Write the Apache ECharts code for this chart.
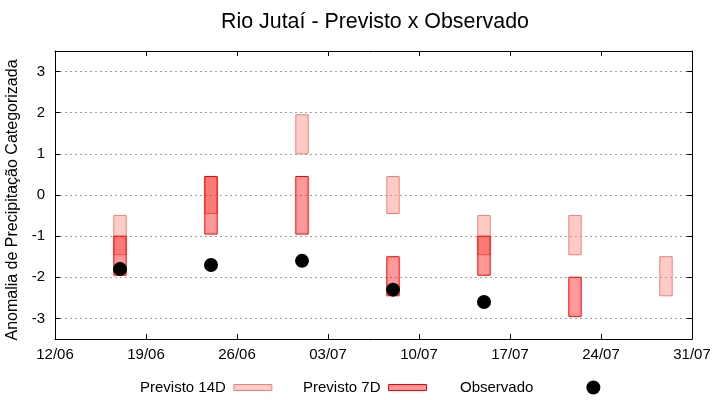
<!DOCTYPE html>
<html>
<head>
<meta charset="utf-8">
<script src="https://cdn.jsdelivr.net/npm/echarts@6/dist/echarts.min.js"></script>
<style>html,body{margin:0;padding:0;background:#fff}#c{width:720px;height:400px}</style>
</head>
<body>
<div id="c"></div>
<script>
// ---- data ----
const xTickStart = '12/06';
const xTickEnd = '31/07';
const dates14 = ['17/06', '24/06', '01/07', '08/07', '15/07', '22/07', '29/07'];
const low14   = [-1.45, -0.45, 1.0, -0.45, -1.45, -1.45, -2.45];
const high14  = [-0.5, 0.45, 1.95, 0.45, -0.5, -0.5, -1.5];
const dates7  = ['17/06', '24/06', '01/07', '08/07', '15/07', '22/07'];
const low7    = [-1.95, -0.95, -0.95, -2.45, -1.95, -2.95];
const high7   = [-1.0, 0.45, 0.45, -1.5, -1.0, -2.0];
const obsDates  = ['17/06', '24/06', '01/07', '08/07', '15/07'];
const obsValues = [-1.8, -1.7, -1.6, -2.3, -2.6];
const yTicks = [-3, -2, -1, 0, 1, 2, 3];

const YEAR = 2024;
const DAY = 86400000;
function toMs(s) { const [d, m] = s.split('/').map(Number); return Date.UTC(YEAR, m - 1, d); }
const base = toMs(xTickStart);
function dayOff(s) { return (toMs(s) - base) / DAY; }
function fmt(v) {
  const dt = new Date(base + v * DAY);
  const d = String(dt.getUTCDate()).padStart(2, '0');
  const m = String(dt.getUTCMonth() + 1).padStart(2, '0');
  return d + '/' + m;
}

const FONT = "'Liberation Sans', Arial, sans-serif";
const BOX_W = 0.95;
const c14 = { fill: 'rgba(250,128,114,0.4)', stroke: '#f08070' };
const c7  = { fill: 'rgba(255,0,0,0.4)', stroke: '#ff0000' };

function boxes(dates, lo, hi) {
  return dates.map((d, i) => [dayOff(d), lo[i], hi[i]]);
}
function makeRender(col) {
  return function (params, api) {
    const x = api.value(0), lo = api.value(1), hi = api.value(2);
    const p1 = api.coord([x, hi]);
    const p2 = api.coord([x, lo]);
    const w = api.size([BOX_W, 0])[0];
    return {
      type: 'rect',
      shape: { x: p1[0] - w / 2, y: p1[1], width: w, height: p2[1] - p1[1] },
      style: { fill: col.fill, stroke: col.stroke, lineWidth: 1 }
    };
  };
}

const xMax = dayOff(xTickEnd);
const chart = echarts.init(document.getElementById('c'), null, { renderer: 'canvas' });
const legendCommon = {
  orient: 'horizontal', align: 'right', top: 375,
  textStyle: { fontFamily: FONT, fontSize: 15, color: '#000' }
};
chart.setOption({
  animation: false,
  backgroundColor: '#fff',
  textStyle: { fontFamily: FONT },
  title: {
    text: 'Rio Jutaí - Previsto x Observado',
    left: 370, textAlign: 'center', top: 7,
    textStyle: { fontFamily: FONT, fontSize: 21.4, fontWeight: 'normal', color: '#000' }
  },
  legend: [
    Object.assign({}, legendCommon, {
      left: 135, itemWidth: 38, itemHeight: 6,
      textStyle: { fontFamily: FONT, fontSize: 15, color: '#000', padding: [0, 3, 0, 0] },
      data: [{ name: 'Previsto 14D', icon: 'rect', itemStyle: { color: c14.fill, borderColor: c14.stroke, borderWidth: 1 } }]
    }),
    Object.assign({}, legendCommon, {
      left: 298, itemWidth: 38, itemHeight: 6,
      textStyle: { fontFamily: FONT, fontSize: 15, color: '#000', padding: [0, 3, 0, 0] },
      data: [{ name: 'Previsto 7D', icon: 'rect', itemStyle: { color: c7.fill, borderColor: c7.stroke, borderWidth: 1 } }]
    }),
    Object.assign({}, legendCommon, {
      left: 455, itemWidth: 110, itemHeight: 14,
      data: [{ name: 'Observado', icon: 'circle', itemStyle: { color: '#000', opacity: 1 } }]
    })
  ],
  grid: { left: 55, right: 28, top: 51, bottom: 61, containLabel: false, outerBoundsMode: 'none' },
  xAxis: [
    {
      type: 'value', min: 0, max: xMax, interval: 7, position: 'bottom', z: 3,
      axisLine: { show: true, onZero: false, lineStyle: { color: '#000', width: 1 } },
      axisTick: { show: true, inside: true, length: 5, lineStyle: { color: '#000' } },
      axisLabel: { formatter: fmt, fontFamily: FONT, fontSize: 15, color: '#000', margin: 8 },
      splitLine: { show: false }
    },
    {
      type: 'value', min: 0, max: xMax, interval: 7, position: 'top', z: 3,
      axisLine: { show: true, onZero: false, lineStyle: { color: '#000', width: 1 } },
      axisTick: { show: true, inside: true, length: 5, lineStyle: { color: '#000' } },
      axisLabel: { show: false },
      splitLine: { show: false }
    }
  ],
  yAxis: [
    {
      type: 'value', min: yTicks[0] - 0.5, max: yTicks[yTicks.length - 1] + 0.5, splitNumber: 7,
      position: 'left', z: 1,
      name: 'Anomalia de Precipitação Categorizada', nameLocation: 'middle', nameRotate: 90, nameGap: 27,
      nameTextStyle: { fontFamily: FONT, fontSize: 16, color: '#000', padding: [0, 10, 0, 0] },
      axisLine: { show: true, onZero: false, lineStyle: { color: '#000', width: 1 } },
      axisTick: { show: true, inside: true, length: 5, lineStyle: { color: '#000' } },
      axisLabel: { showMinLabel: false, showMaxLabel: false, fontFamily: FONT, fontSize: 15, color: '#000', margin: 10,
        formatter: v => String(v) },
      splitLine: { show: true, lineStyle: { color: '#a0a0a0', type: [2, 3], width: 1 } }
    },
    {
      type: 'value', min: yTicks[0] - 0.5, max: yTicks[yTicks.length - 1] + 0.5, splitNumber: 7,
      position: 'right', z: 3,
      axisLine: { show: true, onZero: false, lineStyle: { color: '#000', width: 1 } },
      axisTick: { show: true, inside: true, length: 5, lineStyle: { color: '#000' } },
      axisLabel: { show: false },
      splitLine: { show: false }
    }
  ],
  series: [
    {
      name: 'Previsto 14D', type: 'custom', xAxisIndex: 0, yAxisIndex: 0, z: 2,
      renderItem: makeRender(c14), encode: { x: 0, y: [1, 2] },
      itemStyle: { color: c14.fill, borderColor: c14.stroke },
      data: boxes(dates14, low14, high14)
    },
    {
      name: 'Previsto 7D', type: 'custom', xAxisIndex: 0, yAxisIndex: 0, z: 3,
      renderItem: makeRender(c7), encode: { x: 0, y: [1, 2] },
      itemStyle: { color: c7.fill, borderColor: c7.stroke },
      data: boxes(dates7, low7, high7)
    },
    {
      name: 'Observado', type: 'scatter', xAxisIndex: 0, yAxisIndex: 0, z: 4,
      symbol: 'circle', symbolSize: 14, itemStyle: { color: '#000', opacity: 1 },
      data: obsDates.map((d, i) => [dayOff(d), obsValues[i]])
    }
  ]
});
</script>
</body>
</html>
